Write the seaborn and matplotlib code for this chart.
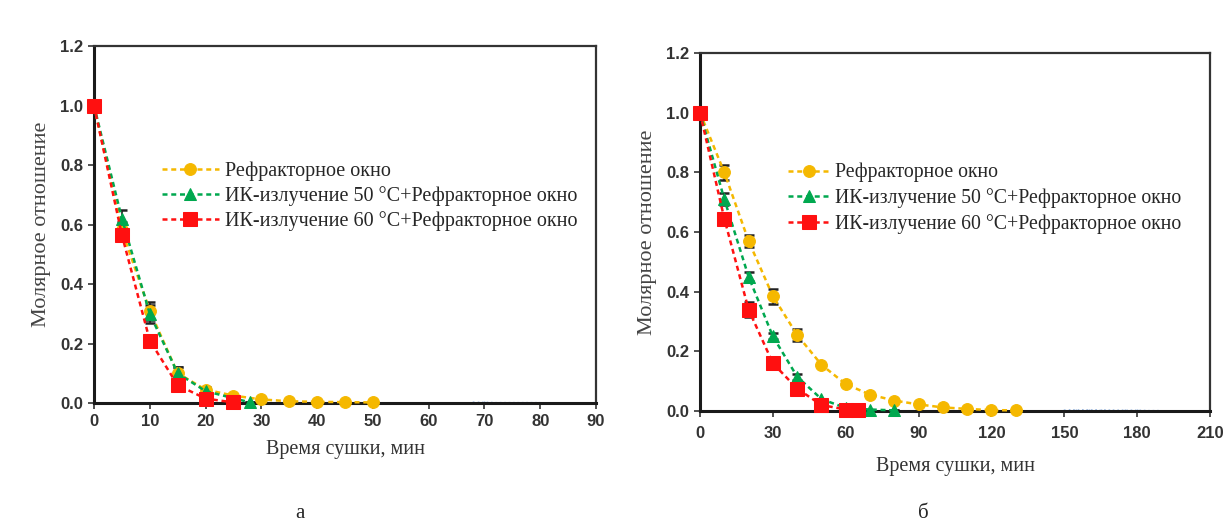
import numpy as np
import pandas as pd
import matplotlib
matplotlib.use('Agg')
import matplotlib.pyplot as plt
import seaborn as sns

sns.set_style('white')
plt.rcParams['font.family'] = ['Liberation Serif', 'DejaVu Serif']

# ---- panel a ----
a_ref_t = [0, 5, 10, 15, 20, 25, 30, 35, 40, 45, 50]
a_ref_mr = [1.0, 0.58, 0.31, 0.10, 0.045, 0.025, 0.012, 0.006, 0.004, 0.003, 0.002]
a_ref_err = [0, 0.03, 0.03, 0.02, 0.01, 0, 0, 0, 0, 0, 0]
a_ir50_t = [0, 5, 10, 15, 20, 28]
a_ir50_mr = [1.0, 0.62, 0.30, 0.10, 0.04, 0.002]
a_ir50_err = [0, 0.03, 0.03, 0.02, 0.01, 0]
a_ir60_t = [0, 5, 10, 15, 20, 25]
a_ir60_mr = [1.0, 0.565, 0.21, 0.06, 0.015, 0.002]
a_ir60_err = [0, 0.02, 0.02, 0.01, 0, 0]
a_extra_t = [68, 70, 72, 74, 76, 78, 80]
a_extra_mr = [0.002, 0.002, 0.001, 0.001, 0.001, 0.001, 0.001]

# ---- panel б ----
b_ref_t = [0, 10, 20, 30, 40, 50, 60, 70, 80, 90, 100, 110, 120, 130]
b_ref_mr = [1.0, 0.80, 0.57, 0.385, 0.255, 0.155, 0.09, 0.055, 0.035, 0.022, 0.012, 0.007, 0.003, 0.002]
b_ref_err = [0, 0.025, 0.02, 0.025, 0.02, 0, 0, 0, 0, 0, 0, 0, 0, 0]
b_ir50_t = [0, 10, 20, 30, 40, 50, 60, 70, 80]
b_ir50_mr = [1.0, 0.71, 0.45, 0.25, 0.115, 0.04, 0.01, 0.005, 0.002]
b_ir50_err = [0, 0.02, 0.015, 0.01, 0.01, 0, 0, 0, 0]
b_ir60_t = [0, 10, 20, 30, 40, 50, 60, 65]
b_ir60_mr = [1.0, 0.645, 0.34, 0.16, 0.075, 0.02, 0.005, 0.002]
b_ir60_err = [0, 0.02, 0.025, 0.01, 0.01, 0, 0, 0]
b_extra_t = [150, 155, 160, 165, 170, 175, 180, 185, 190]
b_extra_mr = [0.003, 0.003, 0.003, 0.003, 0.002, 0.002, 0.002, 0.001, 0.001]

labels = ['Рефракторное окно',
          'ИК-излучение 50 °C+Рефракторное окно',
          'ИК-излучение 60 °C+Рефракторное окно']
colors = ['#F5B800', '#00A84F', '#FF1010']
markers = ['o', '^', 's']
msizes = [8.5, 8, 10]

fig = plt.figure(figsize=(12.32, 5.31), dpi=100)
ax1 = fig.add_axes([0.0763, 0.241, 0.4075, 0.6723])
ax2 = fig.add_axes([0.5682, 0.226, 0.414, 0.674])

panels = [
    (ax1, [(a_ref_t, a_ref_mr, a_ref_err), (a_ir50_t, a_ir50_mr, a_ir50_err), (a_ir60_t, a_ir60_mr, a_ir60_err)],
     (a_extra_t, a_extra_mr), np.arange(0, 91, 10), 90, 8, 4),
    (ax2, [(b_ref_t, b_ref_mr, b_ref_err), (b_ir50_t, b_ir50_mr, b_ir50_err), (b_ir60_t, b_ir60_mr, b_ir60_err)],
     (b_extra_t, b_extra_mr), np.arange(0, 211, 30), 210, 11, 7),
]

for ax, series, extra, xt, xmax, xpad, tpad in panels:
    sns.lineplot(x=extra[0], y=extra[1], ax=ax, color='#4A7FC8', linestyle=':',
                 marker='.', markersize=4, linewidth=1.2, alpha=0.7)
    for i, (t, mr, err) in enumerate(series):
        ax.errorbar(t, mr, yerr=err, fmt='none', ecolor='#222222', elinewidth=1.2,
                    capsize=3.5, capthick=1.8, zorder=2)
        sns.lineplot(x=t, y=mr, ax=ax, color=colors[i], marker=markers[i], markersize=msizes[i],
                     markeredgecolor=colors[i], linestyle=(0, (2, 1.5)), linewidth=1.8,
                     label=labels[i], zorder=3 + i, clip_on=False)
    ax.set_xlim(0, xmax)
    ax.set_ylim(0, 1.2)
    ax.set_xticks(xt)
    ax.set_yticks(np.arange(0, 1.21, 0.2))
    ax.set_yticklabels([f'{v:.1f}' for v in np.arange(0, 1.21, 0.2)])
    for lab in ax.get_xticklabels() + ax.get_yticklabels():
        lab.set_family('Liberation Sans')
        lab.set_fontweight('bold')
        lab.set_fontsize(12)
        lab.set_color('#333333')
    ax.tick_params(axis='y', direction='out', length=4, width=1.2, color='#333333', pad=4, left=True)
    ax.tick_params(axis='x', direction='out', length=4, width=1.2, color='#333333', pad=tpad, bottom=True)
    for side in ['left', 'bottom']:
        ax.spines[side].set_linewidth(2.2)
        ax.spines[side].set_color('#1a1a1a')
    for side in ['top', 'right']:
        ax.spines[side].set_linewidth(1.6)
        ax.spines[side].set_color('#333333')
    ax.set_xlabel('Время сушки, мин', fontsize=14.5, color='#333333', labelpad=xpad)
    ax.set_ylabel('Молярное отношение', fontsize=16, color='#444444', labelpad=6)

ax1.legend(loc='upper left', bbox_to_anchor=(0.12, 0.70), frameon=False, fontsize=14.5,
           handlelength=2.8, handletextpad=0.3, labelspacing=0.25, borderaxespad=0)
ax2.legend(loc='upper left', bbox_to_anchor=(0.157, 0.715), frameon=False, fontsize=14.2,
           handlelength=2.1, handletextpad=0.3, labelspacing=0.3, borderaxespad=0)

fig.text(300 / 1232, 1 - 514 / 531, 'а', ha='center', va='center', fontsize=15)
fig.text(923 / 1232, 1 - 514 / 531, 'б', ha='center', va='center', fontsize=15)

fig.savefig('out.png', dpi=100)
